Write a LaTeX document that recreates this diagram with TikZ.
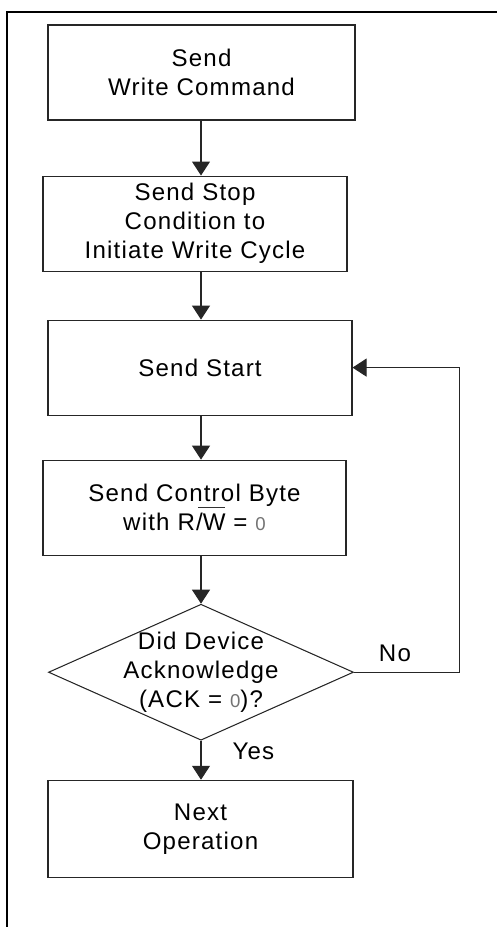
\documentclass[tikz,border=0pt]{standalone}
\usepackage{fontspec}
\setmainfont{Liberation Sans}[LetterSpace=5]
\usepackage{pgf,tikz}
\usetikzlibrary{positioning, shapes.geometric, arrows.meta}

\newcommand{\thinzero}{{\fontsize{10.6pt}{12pt}\selectfont\color{black!55}0}}
\newcommand{\barW}{\makebox[0pt][l]{\hspace{-0.2em}\color{black!80}\rule[0.95em]{1.12em}{0.6pt}}W}

\begin{document}
\begin{tikzpicture}[
	every node/.style={font=\fontsize{13.7pt}{16.5pt}\selectfont},
	box/.style={draw=black!85, line width=0.6pt, align=center, minimum width=6.1cm, minimum height=1.9cm, inner sep=0pt},
	decision/.style={diamond, draw=black!85, line width=0.6pt, align=center, aspect=2.24, minimum width=6.1cm, minimum height=2.72cm, inner sep=-0.14cm},
	flow/.style={draw=black!85, line width=0.6pt, -{Triangle[width=0.36cm,length=0.28cm]}},
	lbl/.style={inner sep=0pt}
	]
	\useasboundingbox (0,0) rectangle (9.92,-18.54);
	\draw[line width=1.2pt] (10,-0.24) -- (0.14,-0.24) -- (0.14,-18.6);

	\node (wr)[box, minimum width=6.14cm] at (4.03,-1.45) {Send\\Write Command};
	\node (stop)[box, minimum width=6.08cm, below=1.1cm of wr, xshift=-0.13cm] {Send Stop\\Condition to\\Initiate Write Cycle};
	\node (start)[box, minimum width=6.08cm, below=0.96cm of stop, xshift=0.1cm] {Send Start};
	\node (ctrl)[box, minimum width=6.06cm, below=0.88cm of start, xshift=-0.11cm] {Send Control Byte\\with R/\barW{} = \thinzero};
	\node (ack)[decision, below=0.96cm of ctrl, xshift=0.13cm] {Did Device\\Acknowledge\\(ACK = \thinzero)?};
	\node (next)[box, minimum height=1.94cm, below=0.78cm of ack, xshift=-0.01cm] {Next\\Operation};
	\coordinate (turn) at ([xshift=2.1cm]ack.east);

	\draw[flow] (wr.south -| ack) -- (stop.north -| ack);
	\draw[flow] (stop.south -| ack) -- (start.north -| ack);
	\draw[flow] (start.south -| ack) -- (ctrl.north -| ack);
	\draw[flow] (ctrl.south -| ack) -- (ack.north);
	\draw[flow] (ack.south) -- node[lbl, pos=0.28, right=0.62cm]{Yes} (next.north -| ack);
	\draw[flow] (ack.east) -- node[lbl, pos=0.39, above=0.2cm]{No} (turn) |- (start.east);
\end{tikzpicture}
\end{document}
